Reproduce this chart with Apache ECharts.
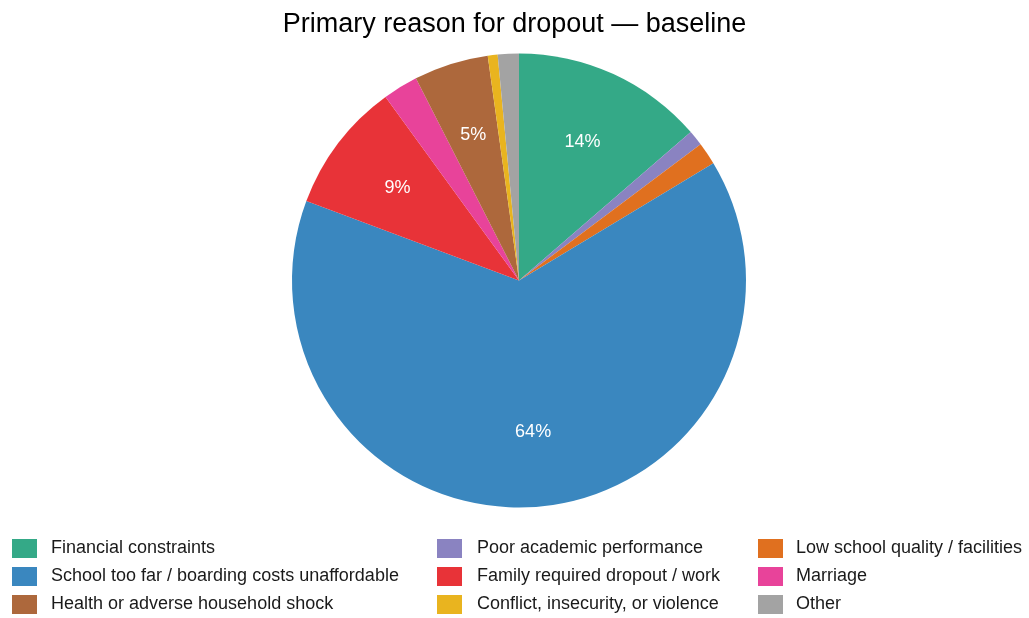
<!DOCTYPE html>
<html>
<head>
<meta charset="utf-8">
<script src="https://cdn.jsdelivr.net/npm/echarts@6/dist/echarts.min.js"></script>
<style>
html,body{margin:0;padding:0;background:#fff;}
#chart{width:1029px;height:618px;}
</style>
</head>
<body>
<div id="chart"></div>
<script>
const categories = [
  "Financial constraints",
  "Poor academic performance",
  "Low school quality / facilities",
  "School too far / boarding costs unaffordable",
  "Family required dropout / work",
  "Marriage",
  "Health or adverse household shock",
  "Conflict, insecurity, or violence",
  "Other"
];
const values = [13.65, 1.1, 1.6, 64.3, 9.3, 2.5, 5.3, 0.7, 1.5];
const colors = ["#34a987", "#8a83c1", "#e0701f", "#3a87bf", "#e83338", "#e8439a", "#ad683c", "#e9b41f", "#a3a3a3"];
const legendCols = [
  [categories[0], categories[3], categories[6]],
  [categories[1], categories[4], categories[7]],
  [categories[2], categories[5], categories[8]]
];
const legendLefts = [12, 437, 758];
const legendTextPad = [9, 10, 8];

const data = categories.map((c, i) => ({ name: c, value: values[i], itemStyle: { color: colors[i] } }));
const font = "Liberation Sans, Arial, sans-serif";
const chart = echarts.init(document.getElementById('chart'), null, { renderer: 'canvas' });

const legends = legendCols.map((col, i) => ({
  orient: 'vertical',
  left: legendLefts[i],
  top: 539,
  itemWidth: 25,
  itemHeight: 19,
  itemGap: 9,
  icon: 'rect',
  padding: 0,
  data: col,
  textStyle: { fontFamily: font, fontSize: 18, color: '#1a1a1a', padding: [0, 0, 0, legendTextPad[i]] }
}));

chart.setOption({
  animation: false,
  backgroundColor: '#fff',
  title: {
    text: 'Primary reason for dropout — baseline',
    left: 'center',
    top: 6,
    textStyle: { fontFamily: font, fontSize: 27, fontWeight: 'normal', color: '#000' }
  },
  legend: legends,
  series: [
    {
      type: 'pie',
      center: [519, 280.5],
      radius: [0, 227],
      startAngle: 90,
      clockwise: true,
      avoidLabelOverlap: false,
      label: { show: false },
      labelLine: { show: false },
      itemStyle: { borderWidth: 0 },
      emphasis: { disabled: true },
      data: data
    },
    {
      type: 'pie',
      center: [519, 280.5],
      radius: [72, 227],
      startAngle: 90,
      clockwise: true,
      silent: true,
      avoidLabelOverlap: false,
      itemStyle: { color: 'rgba(0,0,0,0)', borderWidth: 0 },
      label: {
        show: true,
        position: 'inside',
        fontFamily: font,
        fontSize: 18,
        color: '#fff',
        formatter: p => p.value >= 4 ? Math.round(p.value) + '%' : ''
      },
      labelLine: { show: false },
      emphasis: { disabled: true },
      data: categories.map((c, i) => ({ name: c, value: values[i], itemStyle: { color: 'rgba(0,0,0,0)' } }))
    }
  ]
});
</script>
</body>
</html>
